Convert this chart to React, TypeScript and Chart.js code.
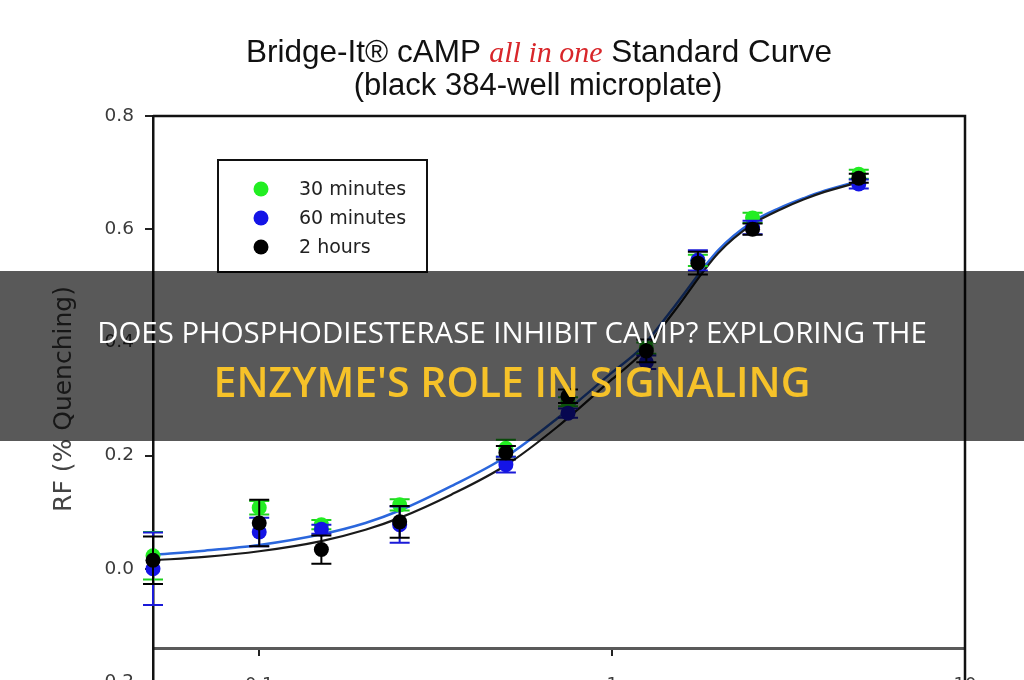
import React, { useEffect, useRef } from 'react';
import { Chart, registerables } from 'chart.js';

Chart.register(...registerables);

// ---- data ----
const concentrations = [0.05, 0.1, 0.15, 0.25, 0.5, 0.75, 1.25, 1.75, 2.5, 5];
const rf30min = [0.023, 0.108, 0.078, 0.113, 0.213, 0.295, 0.39, 0.545, 0.62, 0.697];
const rf60min = [0.0, 0.065, 0.07, 0.078, 0.184, 0.275, 0.365, 0.545, 0.603, 0.68];
const rf2h = [0.015, 0.081, 0.034, 0.083, 0.205, 0.305, 0.385, 0.54, 0.6, 0.69];
const err30min = [0.042, 0.012, 0.008, 0.01, 0.015, 0.008, 0.01, 0.01, 0.009, 0.008];
const err60min = [0.064, 0.025, 0.008, 0.032, 0.014, 0.008, 0.012, 0.018, 0.012, 0.008];
const err2h = [0.042, 0.041, 0.025, 0.028, 0.012, 0.012, 0.02, 0.02, 0.01, 0.008];

const fitX = [0.05, 0.07, 0.1, 0.15, 0.2, 0.25, 0.35, 0.5, 0.7, 1.0, 1.2, 1.5, 2.0, 2.5, 3.0, 3.5, 4.0, 5.0];
const fit60min = [0.025, 0.032, 0.042, 0.061, 0.081, 0.103, 0.146, 0.198, 0.266, 0.347, 0.388, 0.463, 0.563, 0.613, 0.638, 0.655, 0.668, 0.685];
const fit2h = [0.015, 0.021, 0.031, 0.049, 0.069, 0.09, 0.131, 0.183, 0.251, 0.335, 0.378, 0.455, 0.558, 0.609, 0.635, 0.653, 0.666, 0.683];

const seriesLabels = ['30 minutes', '60 minutes', '2 hours'];
const seriesColors = ['#22ee22', '#1414e6', '#000000'];
const errorColors = ['#1fd01f', '#1a1ad8', '#000000'];

const xTicks = [0.1, 1, 10];
const yTicks = [-0.2, 0, 0.2, 0.4, 0.6, 0.8];
const xAxisAt = -0.14;

const toPoints = (xs: number[], ys: number[]) => xs.map((x, i) => ({ x, y: ys[i] }));

const errorBarPlugin = {
  id: 'errorBars',
  beforeDatasetDraw(chart: any, args: any) {
    const ds = chart.data.datasets[args.index];
    if (!ds.errors) return;
    const xs = chart.scales.x;
    const ys = chart.scales.y;
    const ctx = chart.ctx;
    ctx.save();
    ctx.strokeStyle = ds.errorColor;
    ctx.lineWidth = 2;
    ds.data.forEach((p: any, i: number) => {
      const e = ds.errors[i];
      const px = xs.getPixelForValue(p.x);
      const top = ys.getPixelForValue(p.y + e);
      const bot = ys.getPixelForValue(p.y - e);
      ctx.beginPath();
      ctx.moveTo(px, top);
      ctx.lineTo(px, bot);
      ctx.moveTo(px - 10, top);
      ctx.lineTo(px + 10, top);
      ctx.moveTo(px - 10, bot);
      ctx.lineTo(px + 10, bot);
      ctx.stroke();
    });
    ctx.restore();
  },
};

const framePlugin = {
  id: 'frame',
  beforeDatasetsDraw(chart: any) {
    const { ctx, chartArea } = chart;
    ctx.save();
    ctx.strokeStyle = '#111';
    ctx.lineWidth = 2.5;
    ctx.beginPath();
    ctx.moveTo(chartArea.left, chartArea.top);
    ctx.lineTo(chartArea.right, chartArea.top);
    ctx.lineTo(chartArea.right, chartArea.bottom + 10);
    ctx.stroke();
    ctx.restore();
  },
};

const legendBoxPlugin = {
  id: 'legendBox',
  afterDatasetsDraw(chart: any) {
    const { ctx } = chart;
    const x0 = 218, y0 = 160, w = 209, h = 112;
    ctx.save();
    ctx.fillStyle = '#fff';
    ctx.fillRect(x0, y0, w, h);
    ctx.strokeStyle = '#111';
    ctx.lineWidth = 2;
    ctx.strokeRect(x0, y0, w, h);
    ctx.font = '19px "DejaVu Sans"';
    ctx.textBaseline = 'middle';
    let row = 0;
    chart.data.datasets.forEach((ds: any) => {
      if (!ds.inLegend) return;
      const cy = 189 + row * 29;
      ctx.beginPath();
      ctx.fillStyle = ds.backgroundColor;
      ctx.arc(261, cy, 7.5, 0, Math.PI * 2);
      ctx.fill();
      ctx.fillStyle = '#222';
      ctx.fillText(ds.label, 299, cy + 1);
      row++;
    });
    ctx.restore();
  },
};

export default function App() {
  const ref = useRef<HTMLCanvasElement>(null);

  useEffect(() => {
    const pointSets = [rf30min, rf60min, rf2h];
    const errSets = [err30min, err60min, err2h];
    const pointDatasets = pointSets.map((vals, k) => ({
      type: 'scatter',
      label: seriesLabels[k],
      data: toPoints(concentrations, vals),
      backgroundColor: seriesColors[k],
      borderColor: seriesColors[k],
      borderWidth: 0,
      pointRadius: 7.5,
      showLine: false,
      clip: false,
      order: 3 - k,
      errors: errSets[k],
      errorColor: errorColors[k],
      inLegend: true,
    }));
    const curveDatasets = [
      { label: 'fit 2 h', values: fit2h, color: '#1a1a1a', width: 2.2 },
      { label: 'fit 60 min', values: fit60min, color: '#2a66dc', width: 2.5 },
    ].map((c, k) => ({
      type: 'line',
      label: c.label,
      data: toPoints(fitX, c.values),
      borderColor: c.color,
      borderWidth: c.width,
      pointRadius: 0,
      showLine: true,
      fill: false,
      cubicInterpolationMode: 'monotone',
      clip: false,
      order: 10 + k,
    }));

    const chart = new Chart(ref.current as HTMLCanvasElement, {
      type: 'scatter',
      data: { datasets: [...pointDatasets, ...curveDatasets] as any },
      options: {
        responsive: false,
        animation: false,
        devicePixelRatio: 1,
        layout: { padding: { left: 0, right: 59, top: 116, bottom: 38 } },
        plugins: {
          legend: { display: false },
          tooltip: { enabled: false },
          title: { display: false },
        },
        scales: {
          x: {
            type: 'logarithmic',
            min: 0.05,
            max: 10,
            position: { y: xAxisAt } as any,
            afterBuildTicks: (s: any) => {
              s.ticks = xTicks.map((v) => ({ value: v }));
            },
            ticks: {
              callback: (v: any) => String(v),
              color: '#3a3a3a',
              font: { size: 18, family: 'DejaVu Sans' },
              padding: 20,
              maxRotation: 0,
              autoSkip: false,
            },
            grid: { drawOnChartArea: false, tickLength: 6, color: '#222', lineWidth: 2 },
            border: { display: true, color: '#5a5a5a', width: 3 },
          },
          y: {
            type: 'linear',
            min: -0.2,
            max: 0.8,
            afterFit: (s: any) => {
              s.width = 153;
            },
            afterBuildTicks: (s: any) => {
              s.ticks = yTicks.map((v) => ({ value: v }));
            },
            ticks: {
              callback: (v: any) => Number(v).toFixed(1),
              color: '#3a3a3a',
              font: { size: 18.5, family: 'DejaVu Sans' },
              padding: 11,
            },
            grid: { drawOnChartArea: false, tickLength: 8, color: '#222', lineWidth: 2 },
            border: { display: true, color: '#111', width: 2.5 },
            title: {
              display: true,
              text: 'RF (% Quenching)',
              color: '#444',
              font: { size: 25, family: 'DejaVu Sans' },
              padding: { top: 49, bottom: 0 },
            },
          },
        },
      },
      plugins: [framePlugin, errorBarPlugin, legendBoxPlugin],
    } as any);
    return () => chart.destroy();
  }, []);

  return (
    <div
      style={{
        position: 'fixed',
        left: 0,
        top: 0,
        width: 1024,
        height: 680,
        overflow: 'hidden',
        background: '#fff',
      }}
    >
      <canvas
        ref={ref}
        width={1024}
        height={720}
        style={{ position: 'absolute', left: 0, top: 0, width: 1024, height: 720 }}
      />
      <div
        style={{
          position: 'absolute',
          left: 0,
          top: 36,
          width: 1078,
          textAlign: 'center',
          fontFamily: '"Liberation Sans", Arial, sans-serif',
          fontSize: 31.5,
          lineHeight: '31px',
          color: '#111',
          whiteSpace: 'nowrap',
        }}
      >
        Bridge-It® cAMP{' '}
        <span
          style={{
            fontFamily: '"Liberation Serif", serif',
            fontStyle: 'italic',
            color: '#d8262a',
            fontSize: 30,
          }}
        >
          all in one
        </span>{' '}
        Standard Curve
      </div>
      <div
        style={{
          position: 'absolute',
          left: 0,
          top: 69,
          width: 1076,
          textAlign: 'center',
          fontFamily: '"Liberation Sans", Arial, sans-serif',
          fontSize: 31,
          lineHeight: '31px',
          color: '#111',
          whiteSpace: 'nowrap',
        }}
      >
        (black 384-well microplate)
      </div>
      <div
        style={{
          position: 'absolute',
          left: 0,
          top: 271,
          width: 1024,
          height: 170,
          background: 'rgba(0,0,0,0.65)',
        }}
      />
      <div
        style={{
          position: 'absolute',
          left: 0,
          top: 318,
          width: 1024,
          textAlign: 'center',
          fontFamily: '"Open Sans", sans-serif',
          fontSize: 29.4,
          lineHeight: '29px',
          color: '#ffffff',
          whiteSpace: 'nowrap',
        }}
      >
        DOES PHOSPHODIESTERASE INHIBIT CAMP? EXPLORING THE
      </div>
      <div
        style={{
          position: 'absolute',
          left: 0,
          top: 361,
          width: 1024,
          textAlign: 'center',
          fontFamily: '"Open Sans", sans-serif',
          fontWeight: 600,
          fontSize: 41,
          lineHeight: '41px',
          color: '#f6c229',
          whiteSpace: 'nowrap',
        }}
      >
        ENZYME'S ROLE IN SIGNALING
      </div>
    </div>
  );
}
